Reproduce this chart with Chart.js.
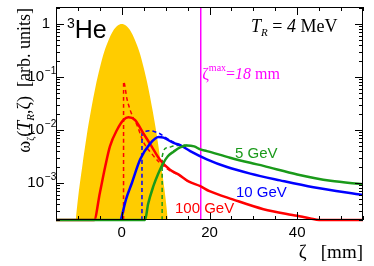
<!DOCTYPE html>
<html>
<head>
<meta charset="utf-8">
<script src="https://cdn.jsdelivr.net/npm/chart.js@4.4.1/dist/chart.umd.min.js"></script>
<style>
  html, body { margin: 0; padding: 0; background: #fff; }
  #wrap { width: 374px; height: 266px; }
</style>
</head>
<body>
<div id="wrap"><canvas id="chart"></canvas></div>
<script>
// Данные
const xTickLabels = [0, 20, 40];
const yDecades = [1, 1e-1, 1e-2, 1e-3];
const yDecadeLabels = [['1', ''], ['10', '\u22121'], ['10', '\u22122'], ['10', '\u22123']];
const zetaMax = 18;
const energyLabels = ['5 GeV', '10 GeV', '100 GeV'];

// жёлтая область (распределение при T_R = 4 MeV)
const gaussX = [-10.5, -10, -9, -8, -7, -6, -5, -4, -3, -2, -1, 0, 1, 2, 3, 4, 5, 6, 7, 8, 9, 10, 10.5];
const gaussY = [2e-4, 5e-4, 2.1e-3, 7.8e-3, 0.024, 0.065, 0.15, 0.30, 0.50, 0.74, 0.93, 1.0,
                0.93, 0.74, 0.50, 0.30, 0.15, 0.065, 0.024, 7.8e-3, 2.1e-3, 5e-4, 2e-4];

// 100 GeV
const red100X = [-15, -6.3, -5.0, -3.8, -2.7, -1.1, 0.4, 1.5, 3.0, 4.9, 6.8, 8.7, 11, 12.9, 15.2, 17.9, 20, 25.3, 32.3, 40, 43, 45, 55];
const red100Y = [2e-4, 2e-4, 6.5e-4, 0.002, 0.0049, 0.010, 0.0155, 0.0174, 0.0155, 0.0087, 0.0049, 0.00275,
                 0.00178, 0.00145, 0.00107, 0.00087, 0.00070, 0.00049, 0.00032, 0.00024, 0.000214, 2e-4, 2e-4];
const red100DashX = [0.4, 0.41, 1.2, 1.9, 2.6, 3.4, 4.9, 6.8, 8.7, 11, 13, 15];
const red100DashY = [2e-4, 0.082, 0.038, 0.024, 0.017, 0.0128, 0.0060, 0.0036, 0.0024, 0.0017, 0.00142, 0.00108];

// 10 GeV
const blue10X = [-0.2, 1.0, 2.3, 4.2, 6.5, 8.4, 9.5, 11.8, 13.3, 15.6, 19.4, 24, 29.3, 36.1, 43.7, 55];
const blue10Y = [2e-4, 5e-4, 0.001, 0.0028, 0.0056, 0.0074, 0.0072, 0.0057, 0.0052, 0.0040, 0.0028,
                 0.0020, 0.0015, 0.00112, 0.00083, 0.00059];
const blue10DashX = [4.6, 4.61, 5.3, 6.3, 7.5, 8.7, 10, 11.5, 12.8];
const blue10DashY = [2e-4, 0.0085, 0.0095, 0.0097, 0.0093, 0.0085, 0.0072, 0.0061, 0.0053];

// 5 GeV
const green5X = [-15, 5.3, 6.0, 7.2, 8.3, 9.5, 10.5, 11.8, 13.3, 14.8, 16.5, 17.9, 19.4, 24.7, 29.3, 32.3, 40, 47.6, 55];
const green5Y = [2e-4, 2e-4, 4e-4, 8.7e-4, 0.0015, 0.0024, 0.0032, 0.0039, 0.0047, 0.0051, 0.0049, 0.0043,
                 0.0040, 0.0030, 0.0024, 0.0021, 0.00145, 0.0011, 0.00095];
const green5DashX = [9.2, 9.21, 10.3, 11.8, 14.1, 15];
const green5DashY = [2e-4, 0.0031, 0.0046, 0.0050, 0.0052, 0.0051];

// Цвета
const cYellow = 'rgb(255, 204, 0)';
const cRed = 'rgb(255, 0, 0)';
const cBlue = 'rgb(0, 0, 255)';
const cGreen = 'rgb(26, 154, 26)';
const cMagenta = 'rgb(255, 0, 255)';

const yMin = 2e-4;
const yMax = 2.1;

const toPoints = (xs, ys) => xs.map((x, i) => ({ x: x, y: ys[i] }));

const SERIF = '"Liberation Serif", "DejaVu Serif", serif';
const SANS = '"Liberation Sans", Arial, sans-serif';

// рисует текст из кусков с разными шрифтами
const drawRich = (ctx, x, y, parts) => {
    let cx = x;
    for (const p of parts) {
        ctx.font = p.font;
        ctx.fillText(p.t, cx, y + (p.dy || 0));
        cx += ctx.measureText(p.t).width;
    }
    return cx - x;
}
const richWidth = (ctx, parts) => {
    let w = 0;
    for (const p of parts) {
        ctx.font = p.font;
        w += ctx.measureText(p.t).width;
    }
    return w;
}

const rootFrame = {
    id: 'rootFrame',
    afterDraw(chart) {
        const ctx = chart.ctx;
        const a = chart.chartArea;
        const xs = chart.scales.x;
        const ys = chart.scales.y;
        ctx.save();

        // рамка
        ctx.strokeStyle = '#000';
        ctx.lineWidth = 1;
        ctx.strokeRect(a.left + 0.5, a.top + 0.5, a.right - a.left - 1, a.bottom - a.top - 1);

        // засечки по x
        ctx.beginPath();
        for (let v = -15; v <= 55; v += 5) {
            const px = Math.round(xs.getPixelForValue(v)) + 0.5;
            const len = (v % 20 === 0) ? 8 : 4;
            ctx.moveTo(px, a.bottom); ctx.lineTo(px, a.bottom - len);
            ctx.moveTo(px, a.top); ctx.lineTo(px, a.top + len);
        }
        // засечки по y (логарифм)
        for (let e = -4; e <= 0; e++) {
            for (let m = 1; m <= 9; m++) {
                const v = m * Math.pow(10, e);
                if (v < yMin || v > yMax) continue;
                const py = Math.round(ys.getPixelForValue(v)) + 0.5;
                const len = (m === 1) ? 8 : 4;
                ctx.moveTo(a.left, py); ctx.lineTo(a.left + len, py);
                ctx.moveTo(a.right, py); ctx.lineTo(a.right - len, py);
            }
        }
        ctx.stroke();

        // подписи по y
        ctx.fillStyle = '#000';
        ctx.textBaseline = 'middle';
        yDecades.forEach((v, i) => {
            const py = ys.getPixelForValue(v);
            const [base, exp] = yDecadeLabels[i];
            ctx.font = '15px ' + SANS;
            if (exp === '') {
                ctx.textAlign = 'right';
                ctx.fillText(base, 50, py);
            } else {
                ctx.textAlign = 'right';
                ctx.fillText(base, 44, py);
                ctx.textAlign = 'left';
                ctx.font = '10px ' + SANS;
                ctx.fillText(exp, 45, py - 6);
            }
        });

        ctx.textAlign = 'left';
        ctx.textBaseline = 'alphabetic';

        // заголовок оси y
        const yTitle = [
            { t: '\u03C9', font: '18px ' + SERIF },
            { t: '\u03B6', font: '10px ' + SERIF, dy: 4 },
            { t: '(', font: '18px ' + SERIF },
            { t: 'T', font: 'italic 18px ' + SERIF },
            { t: 'R', font: 'italic 11px ' + SERIF, dy: 4 },
            { t: ',\u03B6)', font: '18px ' + SERIF },
            { t: '  [arb. units]', font: '18px ' + SERIF }
        ];
        const tw = richWidth(ctx, yTitle);
        ctx.save();
        ctx.translate(30, 8 + tw);
        ctx.rotate(-Math.PI / 2);
        drawRich(ctx, 0, 0, yTitle);
        ctx.restore();

        // заголовок оси x
        const xTitle = [
            { t: '\u03B6', font: '19px ' + SERIF },
            { t: '   [mm]', font: '19px ' + SERIF }
        ];
        drawRich(ctx, a.right - richWidth(ctx, xTitle), 258, xTitle);

        // 3He
        ctx.fillStyle = '#000';
        drawRich(ctx, 67, 38, [
            { t: '3', font: '14px ' + SANS, dy: -10 },
            { t: 'He', font: '25px ' + SANS }
        ]);

        // T_R = 4 MeV
        drawRich(ctx, 251, 31.5, [
            { t: 'T', font: 'italic 18px ' + SERIF },
            { t: 'R', font: 'italic 11px ' + SERIF, dy: 4 },
            { t: ' = ', font: '18px ' + SERIF },
            { t: '4', font: 'italic 18px ' + SERIF },
            { t: ' MeV', font: '18px ' + SERIF }
        ]);

        // zeta max
        ctx.fillStyle = cMagenta;
        drawRich(ctx, xs.getPixelForValue(zetaMax) + 1.5, 79, [
            { t: '\u03B6', font: '16px ' + SERIF },
            { t: 'max', font: '10px ' + SERIF, dy: -8 },
            { t: '=', font: '16px ' + SERIF },
            { t: String(zetaMax), font: 'italic 16px ' + SERIF },
            { t: ' mm', font: '16px ' + SERIF }
        ]);

        // подписи энергий
        ctx.font = '15px ' + SANS;
        ctx.fillStyle = cGreen;
        ctx.fillText(energyLabels[0], 235, 158);
        ctx.fillStyle = cBlue;
        ctx.fillText(energyLabels[1], 236, 197);
        ctx.fillStyle = cRed;
        ctx.fillText(energyLabels[2], 175, 213);

        ctx.restore();
    }
}

// order: чем больше, тем ниже слой
const solidLine = (pts, color) => ({
    data: pts,
    order: 1,
    borderColor: color,
    borderWidth: 2.5,
    pointRadius: 0,
    fill: false,
    cubicInterpolationMode: 'monotone',
    clip: { left: 0, top: 0, right: 0, bottom: 2 }
});
const dashedLine = (pts, color) => ({
    data: pts,
    order: 2,
    borderColor: color,
    borderWidth: 1.5,
    borderDash: [4, 3],
    pointRadius: 0,
    fill: false,
    cubicInterpolationMode: 'monotone',
    clip: { left: 0, top: 0, right: 0, bottom: 1 }
});

let canvas = document.getElementById('chart');
let context = canvas.getContext('2d');

let config = {
    type: 'line',
    data: {
        datasets: [
            solidLine(toPoints(green5X, green5Y), cGreen),
            solidLine(toPoints(blue10X, blue10Y), cBlue),
            solidLine(toPoints(red100X, red100Y), cRed),
            dashedLine(toPoints(green5DashX, green5DashY), cGreen),
            dashedLine(toPoints(blue10DashX, blue10DashY), cBlue),
            dashedLine(toPoints(red100DashX, red100DashY), cRed),
            {
                data: [{ x: zetaMax, y: yMin }, { x: zetaMax, y: yMax }],
                order: 3,
                borderColor: cMagenta,
                borderWidth: 1.5,
                pointRadius: 0,
                fill: false
            },
            {
                data: toPoints(gaussX, gaussY),
                order: 10,
                borderWidth: 0,
                borderColor: cYellow,
                backgroundColor: cYellow,
                pointRadius: 0,
                fill: 'start',
                cubicInterpolationMode: 'monotone'
            }
        ]
    },
    options: {
        responsive: true,
        maintainAspectRatio: false,
        animation: false,
        layout: { padding: { top: 7, right: 11, left: 0, bottom: 0 } },
        plugins: {
            legend: { display: false },
            tooltip: { enabled: false }
        },
        scales: {
            x: {
                type: 'linear',
                min: -15,
                max: 55,
                afterBuildTicks: (scale) => {
                    scale.ticks = xTickLabels.map(v => ({ value: v }));
                },
                afterFit: (scale) => { scale.height = 46; },
                ticks: {
                    color: '#000',
                    font: { family: 'Liberation Sans', size: 15 },
                    padding: 4,
                    maxRotation: 0
                },
                grid: { display: false, drawTicks: false },
                border: { display: false }
            },
            y: {
                type: 'logarithmic',
                min: yMin,
                max: yMax,
                afterFit: (scale) => { scale.width = 56; },
                ticks: { display: false },
                grid: { display: false, drawTicks: false },
                border: { display: false }
            }
        }
    },
    plugins: [rootFrame]
}

let chart = new Chart(context, config);
</script>
</body>
</html>
